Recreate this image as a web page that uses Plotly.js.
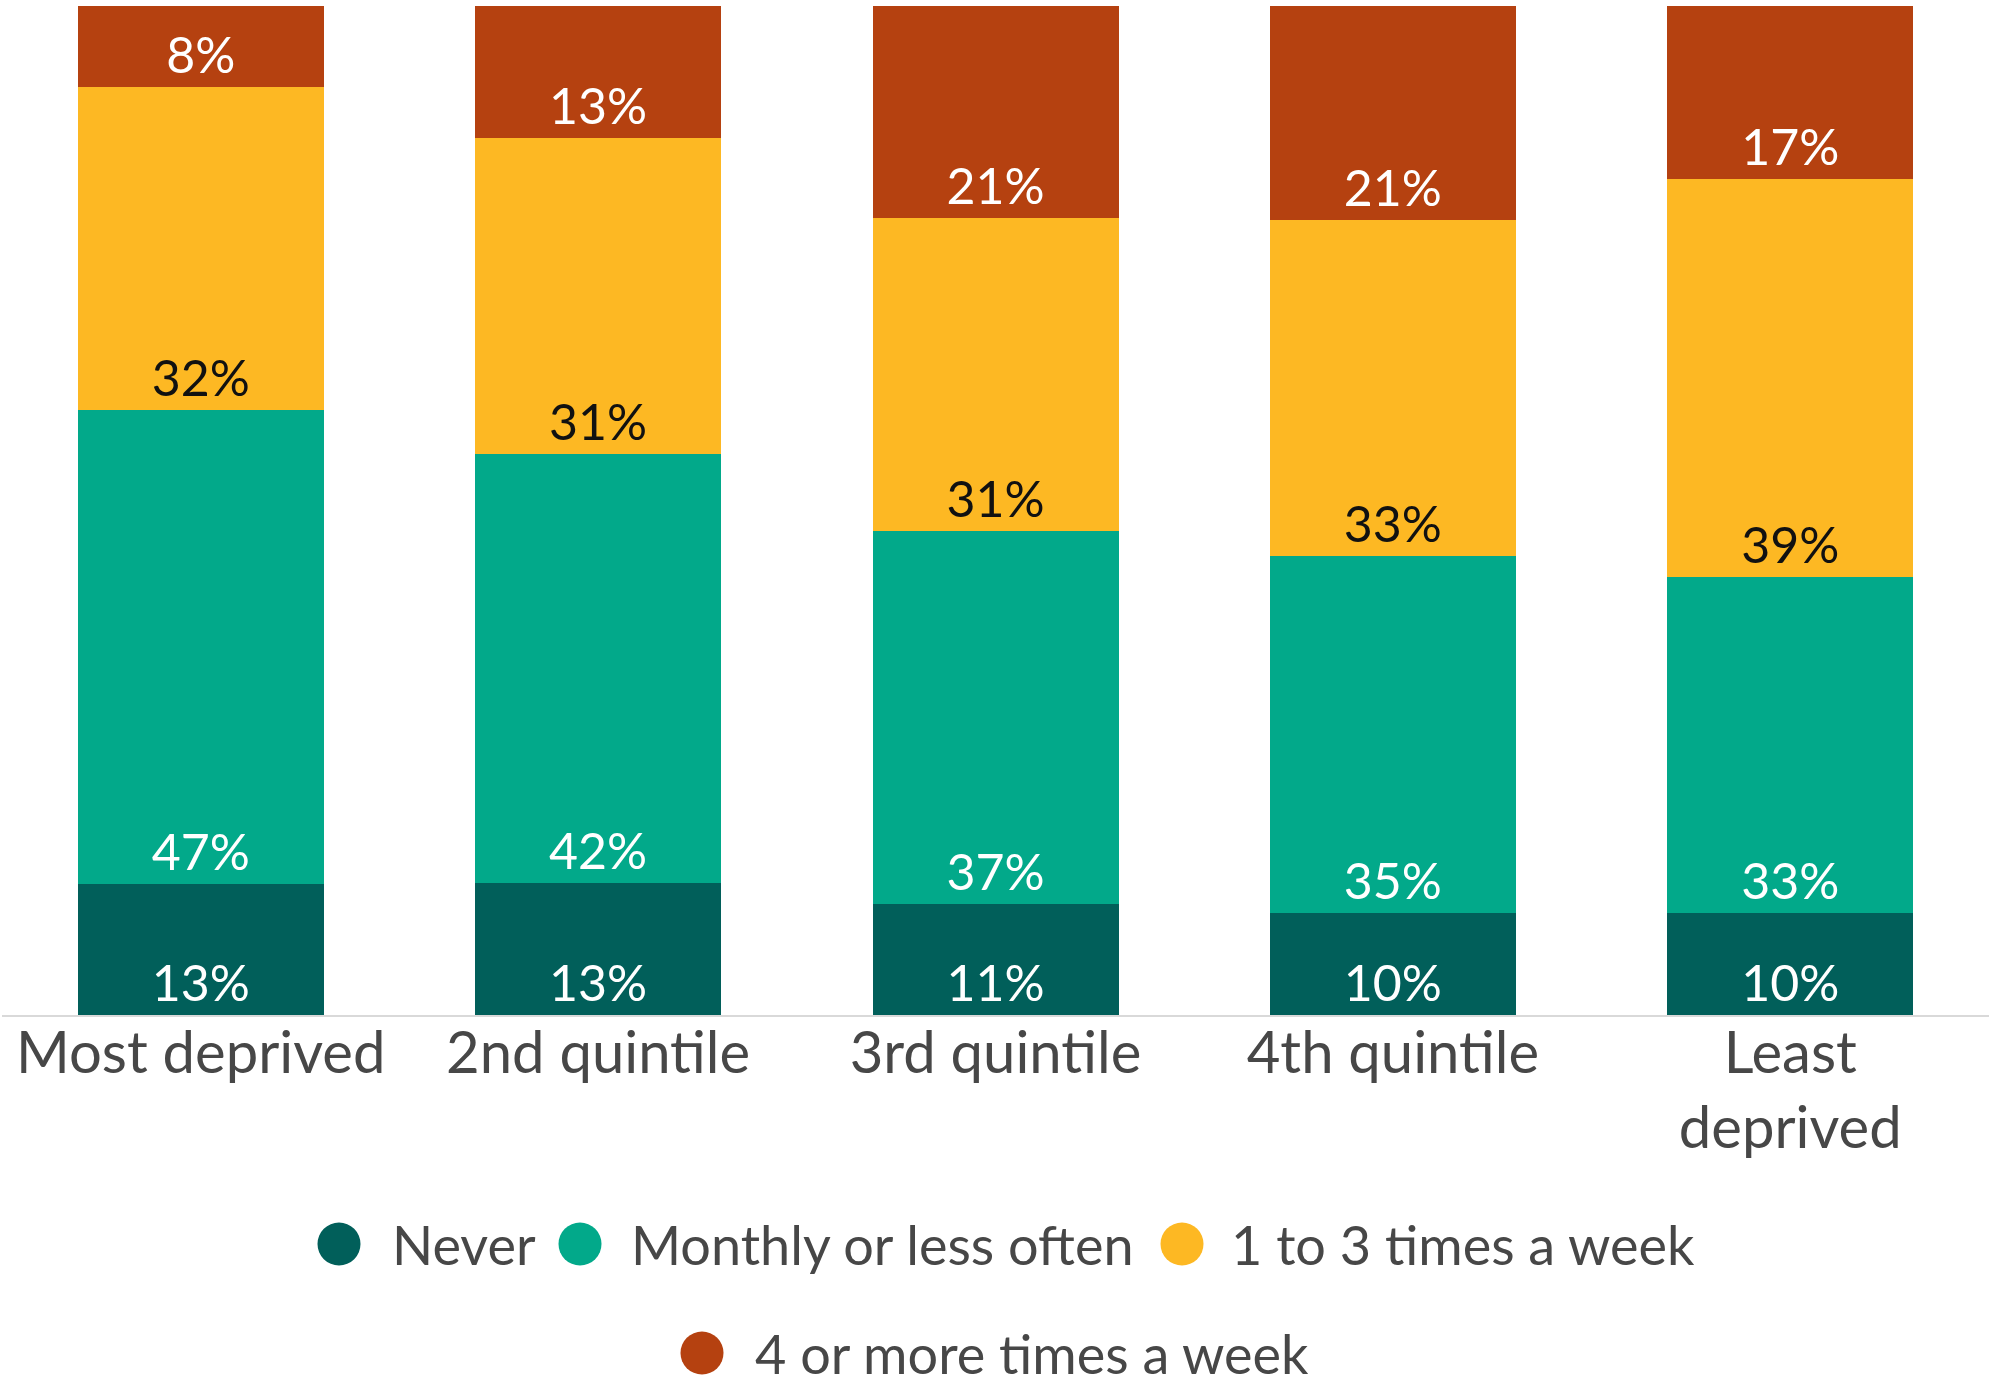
<!DOCTYPE html>
<html>
<head>
<meta charset="utf-8">
<script src="https://cdn.plot.ly/plotly-3.0.1.min.js"></script>
<style>html,body{margin:0;padding:0;background:#fff;}#chart{width:1997px;height:1381px;}</style>
</head>
<body>
<div id="chart"></div>
<script>
const categories = ["Most deprived", "2nd quintile", "3rd quintile", "4th quintile", "Least<br>deprived"];
const seriesNames = ["Never", "Monthly or less often", "1 to 3 times a week", "4 or more times a week"];
const never = [13, 13, 11, 10, 10];
const monthly = [47, 42, 37, 35, 33];
const oneToThree = [32, 31, 31, 33, 39];
const fourPlus = [8, 13, 21, 21, 17];

const colors = ["#015F5A", "#02A98A", "#FDB823", "#B54110"];
const textColors = ["#ffffff", "#ffffff", "#111111", "#ffffff"];
const seriesValues = [never, monthly, oneToThree, fourPlus];

const FONT = "Lato, 'Open Sans', sans-serif";
const W = 1997, H = 1381;
const M = {l: 2, r: 8, t: 6, b: 366};
const plotW = W - M.l - M.r, plotH = H - M.t - M.b;
const px2x = p => (p - M.l) / plotW;
const py2y = p => (H - M.b - p) / plotH;

const traces = seriesValues.map((vals, i) => ({
  type: "bar",
  name: seriesNames[i],
  x: categories,
  y: vals,
  text: vals.map(v => v + "%"),
  textposition: "inside",
  insidetextanchor: "start",
  textangle: 0,
  constraintext: "none",
  textfont: {family: FONT, size: 50, color: textColors[i]},
  marker: {color: colors[i], line: {width: 0}},
  hoverinfo: "none",
  showlegend: false
}));

// custom legend (circle markers + labels)
const legendItems = [
  {i: 0, cx: 339, tx: 390, cy: 1244},
  {i: 1, cx: 580, tx: 629, cy: 1244},
  {i: 2, cx: 1182, tx: 1229, cy: 1244},
  {i: 3, cx: 702, tx: 753, cy: 1353}
];
const shapes = legendItems.map(it => ({
  type: "circle", xref: "paper", yref: "paper",
  xsizemode: "pixel", ysizemode: "pixel",
  xanchor: px2x(it.cx), yanchor: py2y(it.cy),
  x0: -21.5, x1: 21.5, y0: -21.5, y1: 21.5,
  fillcolor: colors[it.i], line: {width: 0}
}));
const annotations = legendItems.map(it => ({
  xref: "paper", yref: "paper",
  x: px2x(it.tx), y: py2y(it.cy),
  xanchor: "left", yanchor: "middle",
  text: seriesNames[it.i], showarrow: false,
  font: {family: FONT, size: 54, color: "#474747"}
}));

const layout = {
  width: W, height: H,
  margin: M,
  paper_bgcolor: "#ffffff", plot_bgcolor: "#ffffff",
  barmode: "stack",
  barnorm: "percent",
  bargap: 0.381,
  showlegend: false,
  xaxis: {
    type: "category",
    range: [-0.5, 4.5],
    showline: true, linecolor: "#d9d9d9", linewidth: 2,
    ticks: "", showgrid: false, zeroline: false,
    ticklabelstandoff: -14,
    tickfont: {family: FONT, size: 58, color: "#474747"},
    fixedrange: true
  },
  yaxis: {
    range: [0, 100],
    visible: false, showgrid: false, zeroline: false,
    fixedrange: true
  },
  shapes: shapes,
  annotations: annotations,
  font: {family: FONT}
};

Plotly.newPlot("chart", traces, layout, {displayModeBar: false, staticPlot: true});
</script>
</body>
</html>
